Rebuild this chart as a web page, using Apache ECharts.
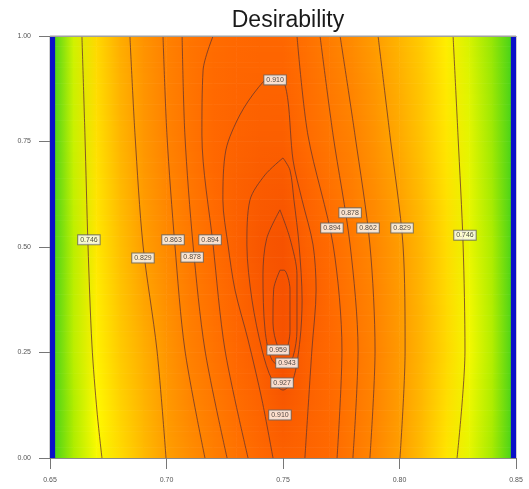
<!DOCTYPE html>
<html>
<head>
<meta charset="utf-8">
<script src="https://cdn.jsdelivr.net/npm/echarts@6/dist/echarts.min.js"></script>
<style>
html,body{margin:0;padding:0;background:#fff;}
#chart{width:529px;height:489px;}
</style>
</head>
<body>
<div id="chart"></div>
<script>
// ---- data ----
const xTicks = [0.65, 0.70, 0.75, 0.80, 0.85];
const yTicks = [0.00, 0.25, 0.50, 0.75, 1.00];

// grid of desirability estimates: columns x = 0.65..0.85 (step 0.01)
const gridX = [0.65,0.66,0.67,0.68,0.69,0.70,0.71,0.72,0.73,0.74,0.75,0.76,0.77,0.78,0.79,0.80,0.81,0.82,0.83,0.84,0.85];
const gridY = [0, 0.125, 0.25, 0.375, 0.5, 0.625, 0.75, 0.875, 1.0];
const rowY000 = [0.685,0.715,0.742,0.769,0.799,0.829,0.849,0.868,0.885,0.901,0.915,0.909,0.898,0.878,0.855,0.829,0.796,0.762,0.736,0.713,0.690];
const rowY125 = [0.686,0.716,0.746,0.775,0.805,0.834,0.857,0.875,0.893,0.910,0.935,0.915,0.899,0.880,0.858,0.832,0.800,0.767,0.738,0.715,0.690];
const rowY250 = [0.687,0.720,0.752,0.782,0.811,0.840,0.866,0.884,0.902,0.924,0.962,0.919,0.900,0.883,0.861,0.835,0.804,0.772,0.741,0.717,0.690];
const rowY375 = [0.688,0.720,0.755,0.788,0.820,0.847,0.871,0.889,0.908,0.932,0.966,0.930,0.899,0.880,0.859,0.834,0.803,0.771,0.740,0.716,0.690];
const rowY500 = [0.690,0.720,0.759,0.794,0.829,0.853,0.875,0.894,0.917,0.940,0.952,0.917,0.897,0.876,0.856,0.832,0.802,0.769,0.737,0.715,0.690];
const rowY625 = [0.690,0.723,0.762,0.799,0.833,0.858,0.879,0.898,0.916,0.930,0.936,0.912,0.889,0.870,0.849,0.825,0.796,0.765,0.736,0.713,0.690];
const rowY750 = [0.690,0.725,0.765,0.804,0.837,0.862,0.883,0.901,0.913,0.921,0.922,0.896,0.880,0.864,0.842,0.817,0.789,0.761,0.735,0.712,0.690];
const rowY875 = [0.690,0.726,0.768,0.808,0.840,0.864,0.883,0.898,0.906,0.910,0.911,0.893,0.876,0.858,0.837,0.812,0.785,0.758,0.733,0.711,0.690];
const rowY1000 = [0.690,0.728,0.771,0.812,0.842,0.865,0.882,0.894,0.900,0.904,0.903,0.888,0.870,0.851,0.830,0.805,0.780,0.754,0.730,0.710,0.690];
const fieldRows = [rowY000,rowY125,rowY250,rowY375,rowY500,rowY625,rowY750,rowY875,rowY1000];

// blue edge bands at the design-space boundary (x ranges)
const edgeBands = [[0.65,0.6522],[0.8478,0.85]];

// contour lines [x, y]
const c746L = [[0.6637,1],[0.6650,0.765],[0.6663,0.505],[0.6680,0.268],[0.6702,0.109],[0.6723,0]];
const c746R = [[0.8230,1],[0.8251,0.765],[0.8273,0.505],[0.8281,0.256],[0.8247,0]];
const c829L = [[0.6843,1],[0.6865,0.765],[0.6899,0.505],[0.6959,0.256],[0.6998,0]];
const c829R = [[0.7908,1],[0.7959,0.765],[0.8015,0.505],[0.8024,0.256],[0.8002,0]];
const c862L = [[0.6985,1],[0.7002,0.765],[0.7036,0.505],[0.7079,0.256],[0.7165,0]];
const c862R = [[0.7745,1],[0.7809,0.765],[0.7873,0.505],[0.7895,0.256],[0.7873,0]];
const c878L = [[0.7067,1],[0.7079,0.765],[0.7114,0.505],[0.7165,0.256],[0.7260,0]];
const c878R = [[0.7659,1],[0.7715,0.765],[0.7788,0.505],[0.7822,0.256],[0.7800,0]];
const c894L = [[0.7200,1],[0.7157,0.919],[0.7152,0.765],[0.7200,0.505],[0.7251,0.256],[0.7350,0]];
const c894R = [[0.7560,1],[0.7607,0.765],[0.7715,0.505],[0.7753,0.256],[0.7732,0]];
const c910 = [[0.7457,0],[0.7410,0.137],[0.7350,0.280],[0.7294,0.398],[0.7264,0.505],[0.7242,0.611],[0.7255,0.730],[0.7315,0.813],[0.7393,0.877],[0.7453,0.905],[0.7496,0.900],[0.7521,0.848],[0.7543,0.706],[0.7582,0.611],[0.7629,0.505],[0.7642,0.398],[0.7624,0.256],[0.7594,0]];
const c927 = [[0.7500,0.711],[0.7423,0.671],[0.7358,0.611],[0.7345,0.505],[0.7367,0.374],[0.7410,0.256],[0.7453,0.185],[0.7500,0.161],[0.7543,0.185],[0.7573,0.280],[0.7582,0.374],[0.7569,0.505],[0.7547,0.611],[0.7530,0.682],[0.7500,0.711]];
const c943 = [[0.7487,0.588],[0.7430,0.520],[0.7414,0.434],[0.7423,0.303],[0.7453,0.232],[0.7509,0.215],[0.7543,0.240],[0.7560,0.303],[0.7560,0.434],[0.7530,0.520],[0.7487,0.588]];
const c959 = [[0.7487,0.445],[0.7460,0.400],[0.7457,0.320],[0.7479,0.262],[0.7509,0.255],[0.7530,0.300],[0.7530,0.400],[0.7505,0.445],[0.7487,0.445]];
const contourPaths = [c746L,c746R,c829L,c829R,c862L,c862R,c878L,c878R,c894L,c894R,c910,c927,c943,c959];

// contour labels: text, x, y
const labelText = ['0.746','0.829','0.863','0.878','0.894','0.910','0.878','0.894','0.862','0.829','0.746','0.959','0.943','0.927','0.910'];
const labelX =    [0.6667,0.6899,0.7028,0.7110,0.7187,0.7466,0.7788,0.7710,0.7865,0.8011,0.8281,0.7479,0.7517,0.7496,0.7487];
const labelY =    [0.517,0.474,0.517,0.476,0.517,0.896,0.581,0.545,0.545,0.545,0.528,0.256,0.225,0.178,0.102];

// ---- colour scale ----
const stops = [
  [0.690,[52,206,30]],
  [0.715,[172,236,0]],
  [0.745,[255,250,0]],
  [0.780,[255,205,0]],
  [0.820,[255,166,0]],
  [0.860,[255,132,0]],
  [0.900,[255,104,0]],
  [0.950,[246,82,0]]
];
function colorOf(v){
  if (v <= stops[0][0]) return 'rgb(' + stops[0][1].join(',') + ')';
  for (let k = 1; k < stops.length; k++){
    if (v <= stops[k][0]){
      const a = stops[k-1], b = stops[k];
      const t = (v - a[0]) / (b[0] - a[0]);
      const c = a[1].map((q,i)=>Math.round(q + (b[1][i]-q)*t));
      return 'rgb(' + c.join(',') + ')';
    }
  }
  return 'rgb(' + stops[stops.length-1][1].join(',') + ')';
}

// cells between grid nodes: x0, x1, y0, y1, v(x0,y0), v(x1,y0), v(x0,y1), v(x1,y1)
const cells = [];
for (let j = 0; j < gridY.length-1; j++){
  for (let i = 0; i < gridX.length-1; i++){
    cells.push([gridX[i], gridX[i+1], gridY[j], gridY[j+1],
      fieldRows[j][i], fieldRows[j][i+1], fieldRows[j+1][i], fieldRows[j+1][i+1]]);
  }
}
const SHADE_STEPS = 10;

const chart = echarts.init(document.getElementById('chart'), null, {renderer:'canvas'});
const FONT = 'Liberation Sans, Arial, sans-serif';

const series = [];
series.push({
  type:'custom',
  z:1,
  clip:true,
  silent:true,
  data:cells,
  encode:{x:[0,1], y:[2,3]},
  renderItem:function(params, api){
    const pLB = api.coord([api.value(0), api.value(2)]);
    const pRT = api.coord([api.value(1), api.value(3)]);
    const a = api.value(4), b = api.value(5), c = api.value(6), d = api.value(7);
    const children = [];
    const h = (pLB[1] - pRT[1]) / SHADE_STEPS;
    for (let s = 0; s < SHADE_STEPS; s++){
      const t = (s + 0.5) / SHADE_STEPS;   // 0 at bottom row, 1 at top row
      const vl = a + (c - a) * t, vr = b + (d - b) * t;
      const yTop = pLB[1] - (s + 1) * h;
      children.push({
        type:'rect',
        shape:{x:pLB[0]-0.3, y:yTop-0.3, width:pRT[0]-pLB[0]+0.6, height:h+0.6},
        style:{fill:new echarts.graphic.LinearGradient(0,0,1,0,[
          {offset:0,color:colorOf(vl)},
          {offset:1,color:colorOf(vr)}
        ])}
      });
    }
    return {type:'group', children:children};
  }
});
series.push({
  type:'custom',
  z:4,
  clip:true,
  silent:true,
  data:edgeBands.map(function(b){return [b[0], b[1], yTicks[0], yTicks[yTicks.length-1]];}),
  encode:{x:[0,1], y:[2,3]},
  renderItem:function(params, api){
    const p0 = api.coord([api.value(0), api.value(3)]);
    const p1 = api.coord([api.value(1), api.value(2)]);
    return {type:'rect', shape:{x:p0[0], y:p0[1], width:p1[0]-p0[0], height:p1[1]-p0[1]}, style:{fill:'#0a10c8'}};
  }
});
contourPaths.forEach(function(path){
  series.push({
    type:'line',
    z:3,
    data:path,
    showSymbol:false,
    symbol:'none',
    smooth:0.3,
    silent:true,
    lineStyle:{color:'rgba(105,55,45,0.8)', width:1}
  });
});
series.push({
  type:'scatter',
  z:6,
  symbolSize:0,
  silent:true,
  data:labelText.map(function(t,i){return {name:t, value:[labelX[i], labelY[i]]};}),
  label:{
    show:true,
    position:'inside',
    formatter:function(p){return p.name;},
    fontSize:7,
    fontFamily:FONT,
    color:'#222',
    backgroundColor:'#ffffff',
    borderColor:'#666',
    borderWidth:1,
    padding:[1,2,1,2]
  },
  labelLayout:{hideOverlap:false}
});

chart.setOption({
  animation:false,
  backgroundColor:'#ffffff',
  title:{
    text:'Desirability',
    left:283,
    textAlign:'center',
    top:4,
    textStyle:{fontSize:23, fontWeight:'normal', color:'#1a1a1a', fontFamily:FONT}
  },
  grid:{left:50, right:13, top:36, bottom:31, show:true, borderColor:'#a0a0a0', borderWidth:1, backgroundColor:'transparent'},
  xAxis:[{
    type:'value', min:xTicks[0], max:xTicks[xTicks.length-1], interval:0.05,
    position:'bottom', z:10,
    axisLine:{show:true, lineStyle:{color:'#8a8a8a', width:1}},
    axisTick:{show:true, length:11, lineStyle:{color:'#777'}},
    axisLabel:{fontSize:7, color:'#555', margin:19, fontFamily:FONT, formatter:function(v){return v.toFixed(2);}},
    splitLine:{show:false}
  },{
    type:'value', min:xTicks[0], max:xTicks[xTicks.length-1], position:'top', z:10,
    axisLine:{show:true, lineStyle:{color:'#a0a0a0', width:1}},
    axisTick:{show:false}, axisLabel:{show:false}, splitLine:{show:false}
  }],
  yAxis:{
    type:'value', min:yTicks[0], max:yTicks[yTicks.length-1], interval:0.25, z:10,
    axisLine:{show:false},
    axisTick:{show:true, length:11, lineStyle:{color:'#777'}},
    axisLabel:{fontSize:7, color:'#555', margin:19, fontFamily:FONT, formatter:function(v){return v.toFixed(2);}},
    splitLine:{show:false}
  },
  series:series
});
</script>
</body>
</html>
